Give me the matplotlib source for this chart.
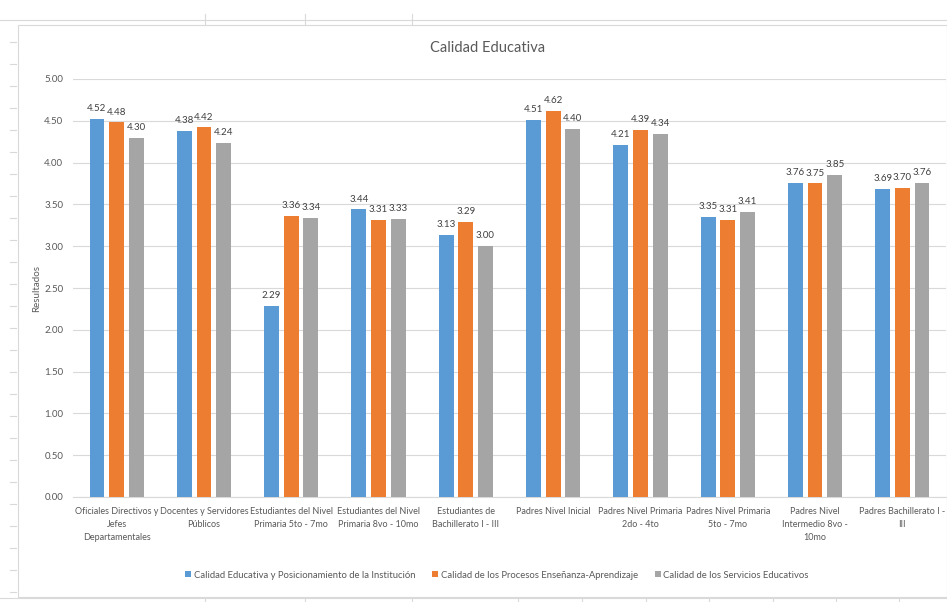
import matplotlib
matplotlib.use("Agg")
import matplotlib.pyplot as plt
import numpy as np
from matplotlib.patches import Rectangle

plt.rcParams['font.family'] = ['Lato', 'DejaVu Sans']

categories = [
    "Oficiales Directivos y\nJefes\nDepartamentales",
    "Docentes y Servidores\nPúblicos",
    "Estudiantes del Nivel\nPrimaria 5to - 7mo",
    "Estudiantes del Nivel\nPrimaria 8vo - 10mo",
    "Estudiantes de\nBachillerato I - III",
    "Padres Nivel Inicial",
    "Padres Nivel Primaria\n2do - 4to",
    "Padres Nivel Primaria\n5to - 7mo",
    "Padres Nivel\nIntermedio 8vo -\n10mo",
    "Padres Bachillerato I -\nIII",
]
series_names = [
    "Calidad Educativa y Posicionamiento de la Institución",
    "Calidad de los Procesos Enseñanza-Aprendizaje",
    "Calidad de los Servicios Educativos",
]
calidad_institucion = [4.52, 4.38, 2.29, 3.44, 3.13, 4.51, 4.21, 3.35, 3.76, 3.69]
calidad_procesos = [4.48, 4.42, 3.36, 3.31, 3.29, 4.62, 4.39, 3.31, 3.75, 3.70]
calidad_servicios = [4.30, 4.24, 3.34, 3.33, 3.00, 4.40, 4.34, 3.41, 3.85, 3.76]
yticks = [0.0, 0.5, 1.0, 1.5, 2.0, 2.5, 3.0, 3.5, 4.0, 4.5, 5.0]

colors = ["#5B9BD5", "#ED7D31", "#A5A5A5"]
text_color = "#595959"

fig = plt.figure(figsize=(9.47, 6.02), dpi=100)
W, H = 947, 602

# spreadsheet background lines
for yy in [20, 598]:
    fig.add_artist(plt.Line2D([0, 1], [1 - yy / H, 1 - yy / H], color="#D9D9D9", lw=0.8))
for xx in [205, 305, 412]:
    fig.add_artist(plt.Line2D([xx / W, xx / W], [1 - 14 / H, 1 - 25 / H], color="#D9D9D9", lw=0.8))
for xx in [205, 305, 412, 518, 582, 646, 709, 773, 836, 899]:
    fig.add_artist(plt.Line2D([xx / W, xx / W], [0, 1 - 598 / H], color="#D9D9D9", lw=0.8))
for yy in range(42, 598, 22):
    fig.add_artist(plt.Line2D([10 / W, 16 / W], [1 - yy / H, 1 - yy / H], color="#D9D9D9", lw=0.8))
# chart area border
fig.add_artist(Rectangle((18 / W, 1 - 597 / H), (947 - 18) / W, (597 - 25) / H,
                         fill=False, edgecolor="#D9D9D9", lw=0.8))

ax = fig.add_axes([73 / W, 1 - 497 / H, (946 - 73) / W, (497 - 79) / H])
x = np.arange(len(categories))
bw = 0.17
step = 0.225
data = [calidad_institucion, calidad_procesos, calidad_servicios]
for i, (vals, name, c) in enumerate(zip(data, series_names, colors)):
    bars = ax.bar(x + (i - 1) * step, vals, width=bw, color=c, label=name, zorder=3)
    for b, v in zip(bars, vals):
        ax.text(b.get_x() + b.get_width() / 2, v + 0.07, f"{v:.2f}", ha="center", va="bottom",
                fontsize=7, color="#404040")

ax.set_xlim(-0.5, len(categories) - 0.5)
ax.set_ylim(0, 5.0)
ax.set_yticks(yticks)
ax.set_yticklabels([f"{t:.2f}" for t in yticks], fontsize=7, color=text_color)
ax.set_xticks(x)
ax.set_xticklabels(categories, fontsize=6.5, color=text_color, linespacing=1.6)
ax.tick_params(axis="both", length=0, pad=7)
ax.yaxis.grid(True, color="#D9D9D9", lw=0.8, zorder=0)
for s in ["top", "right", "left"]:
    ax.spines[s].set_visible(False)
ax.spines["bottom"].set_color("#D9D9D9")
ax.set_ylabel("Resultados", fontsize=7, color=text_color, labelpad=4)
ax.yaxis.set_label_coords(-0.037, 0.5)
fig.text(488 / W, 1 - 48 / H, "Calidad Educativa", fontsize=10.5, color="#595959",
         ha="center", va="center")

fig.legend(loc="center", bbox_to_anchor=(497 / W, 1 - 575 / H), ncol=3, frameon=False,
           fontsize=6.8, handlelength=0.6, handleheight=0.6, columnspacing=1.8,
           handletextpad=0.3, labelcolor=text_color)

fig.savefig("out.png", dpi=100, facecolor="white")
